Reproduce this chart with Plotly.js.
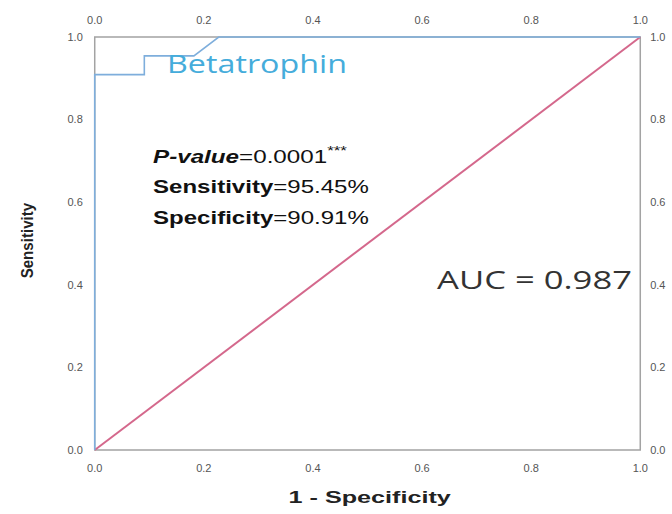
<!DOCTYPE html>
<html>
<head>
<meta charset="utf-8">
<script src="https://cdn.plot.ly/plotly-3.0.1.min.js"></script>
<style>html,body{margin:0;padding:0;background:#fff;}#chart{width:672px;height:514px;}</style>
</head>
<body>
<div id="chart"></div>
<script>
const tickVals = [0, 0.2, 0.4, 0.6, 0.8, 1.0];
const tickLabels = ["0.0", "0.2", "0.4", "0.6", "0.8", "1.0"];
const rocFpr = [0, 0, 0.0909, 0.0909, 0.1818, 0.2273, 1.0];
const rocTpr = [0, 0.9091, 0.9091, 0.9545, 0.9545, 1.0, 1.0];
const diagX = [0, 1];
const diagY = [0, 1];
const curveName = "Betatrophin";
const statsLines = [
  "<b><i>P-value</i></b>=0.0001<sup>***</sup>",
  "<b>Sensitivity</b>=95.45%",
  "<b>Specificity</b>=90.91%"
];
const aucText = "AUC = 0.987";
const xTitle = "1 - Specificity";
const yTitle = "Sensitivity";

const R = [-0.005, 1.005];
const tickFont = {family: "Liberation Sans, Arial, sans-serif", size: 11, color: "#555"};
const axBase = {
  range: R, tickvals: tickVals, ticktext: tickLabels, showgrid: false, zeroline: false,
  showline: false, ticks: "outside", ticklen: 6, tickcolor: "rgba(0,0,0,0)", tickfont: tickFont, fixedrange: true
};

const traces = [
  {x: diagX, y: diagY, mode: "lines", line: {color: "#d4688c", width: 2}, hoverinfo: "skip", xaxis: "x", yaxis: "y"},
  {x: rocFpr, y: rocTpr, mode: "lines", line: {color: "#7eaedc", width: 1.6}, hoverinfo: "skip", xaxis: "x", yaxis: "y"},
  {x: [0], y: [0], mode: "markers", marker: {opacity: 0}, hoverinfo: "skip", xaxis: "x2", yaxis: "y2"}
];

// horizontal stretch (target width in px) per annotation, styling only
const stretchTargets = [];
const stY = [0.714, 0.639, 0.564];
const stW = [194, 216, 216];
const annotations = statsLines.map((t, i) => {
  stretchTargets.push(stW[i]);
  return {
    x: 0.103, y: stY[i], xref: "x", yref: "y", text: t, showarrow: false, xanchor: "left", yanchor: "middle",
    font: {family: "Liberation Sans, Arial, sans-serif", size: 19, color: "#111"}
  };
});
annotations.push({
  x: 0.129, y: 0.937, xref: "x", yref: "y", text: curveName, showarrow: false, xanchor: "left", yanchor: "middle",
  font: {family: "Open Sans, sans-serif", size: 25, color: "#45acdb"}
});
stretchTargets.push(180);
annotations.push({
  x: 0.624, y: 0.414, xref: "x", yref: "y", text: aucText, showarrow: false, xanchor: "left", yanchor: "middle",
  font: {family: "Open Sans, sans-serif", size: 25, color: "#333"}
});
stretchTargets.push(195);
annotations.push({
  x: 0.5045, y: -0.108, xref: "paper", yref: "paper", text: "<b>" + xTitle + "</b>", showarrow: false,
  xanchor: "center", yanchor: "middle",
  font: {family: "Liberation Sans, Arial, sans-serif", size: 17, color: "#222"}
});
stretchTargets.push(163);
annotations.push({
  x: -0.118, y: 0.508, xref: "paper", yref: "paper", text: "<b>" + yTitle + "</b>", showarrow: false, textangle: -90,
  xanchor: "center", yanchor: "middle",
  font: {family: "Liberation Sans, Arial, sans-serif", size: 17, color: "#222"}
});
stretchTargets.push(76);

const layout = {
  width: 672, height: 514,
  margin: {l: 92, r: 29, t: 35, b: 62},
  paper_bgcolor: "#fff", plot_bgcolor: "#fff",
  showlegend: false,
  xaxis: Object.assign({}, axBase, {side: "bottom", anchor: "y"}),
  yaxis: Object.assign({}, axBase, {side: "left", anchor: "x"}),
  xaxis2: Object.assign({}, axBase, {side: "top", overlaying: "x", anchor: "y"}),
  yaxis2: Object.assign({}, axBase, {side: "right", overlaying: "y", anchor: "x", ticklen: 4}),
  shapes: [
    {type: "rect", xref: "x", yref: "y", x0: 0, x1: 1, y0: 0, y1: 1, layer: "below",
     line: {color: "#a3a3a3", width: 1.5}, fillcolor: "rgba(0,0,0,0)"}
  ],
  annotations: annotations
};

Plotly.newPlot("chart", traces, layout, {displayModeBar: false, staticPlot: true}).then(() => {
  document.querySelectorAll("g.annotation").forEach(g => {
    const idx = +g.getAttribute("data-index");
    const target = stretchTargets[idx];
    if (!target) return;
    const t = g.querySelector("text.annotation-text");
    if (!t) return;
    const bb = t.getBBox();
    if (!bb.width) return;
    const s = target / bb.width;
    const anchor = annotations[idx].xanchor === "center" ? bb.x + bb.width / 2 : bb.x;
    const prev = t.getAttribute("transform") || "";
    t.setAttribute("transform", prev + " translate(" + anchor + ",0) scale(" + s + ",1) translate(" + (-anchor) + ",0)");
  });
});
</script>
</body>
</html>
